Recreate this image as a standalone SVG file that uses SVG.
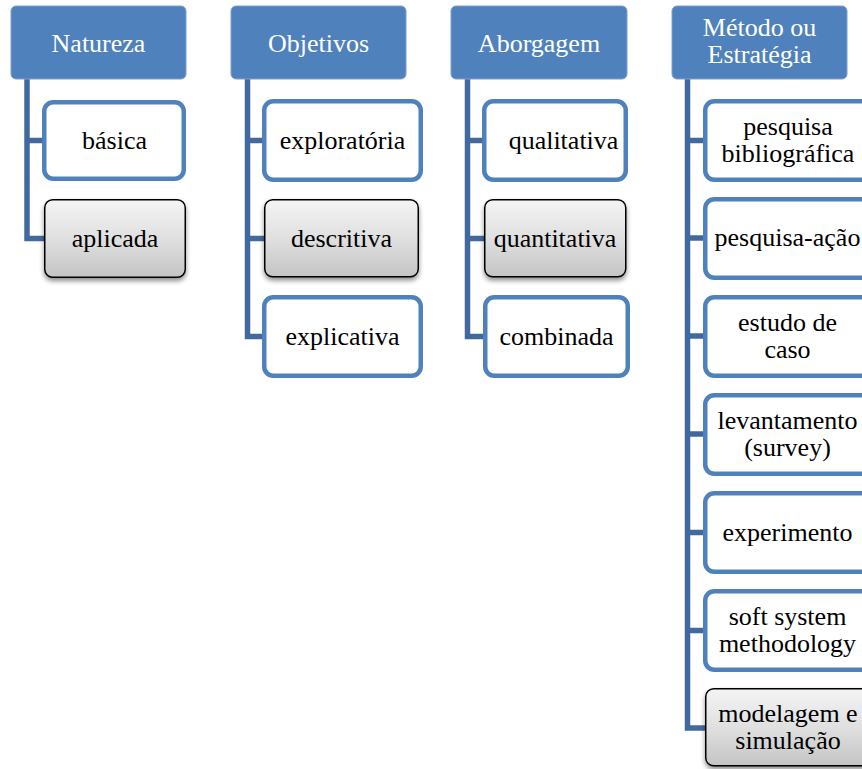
<svg xmlns="http://www.w3.org/2000/svg" width="862" height="769" viewBox="0 0 862 769">
  <style>
    .hdr rect { fill: #4f81bd; stroke: #7da0d0; stroke-width: 1; }
    .hdr text { fill: #ffffff; }
    text { font-family: "Liberation Serif", "Times New Roman", serif; font-size: 26px; text-anchor: middle; fill: #000000; }
    .item rect { fill: #ffffff; stroke: #4f81bd; stroke-width: 4.5; }
    .sel rect { fill: url(#gray); stroke: #000000; stroke-width: 1.5; filter: url(#shadow); }
    .conn { fill: none; stroke: #41699e; stroke-width: 5.5; stroke-linejoin: miter; }
  </style>
  <defs>
    <linearGradient id="gray" x1="0" y1="0" x2="0" y2="1">
      <stop offset="0" stop-color="#f4f4f4"/>
      <stop offset="0.5" stop-color="#e0e0e0"/>
      <stop offset="1" stop-color="#c4c4c4"/>
    </linearGradient>
    <filter id="shadow" x="-10%" y="-10%" width="120%" height="130%">
      <feGaussianBlur in="SourceAlpha" stdDeviation="2.5"/>
      <feOffset dy="3" result="b"/>
      <feComponentTransfer><feFuncA type="linear" slope="0.45"/></feComponentTransfer>
      <feMerge><feMergeNode/><feMergeNode in="SourceGraphic"/></feMerge>
    </filter>
  </defs>

  <!-- connectors -->
  <g id="connectors" class="conn">
    <path d="M27 79 V238.5 H46 M27 140.5 H46"/>
    <path d="M247.5 79 V336.5 H266 M247.5 140.5 H266 M247.5 238.5 H266"/>
    <path d="M467.5 79 V336.5 H486 M467.5 140.5 H486 M467.5 238.5 H486"/>
    <path d="M687.5 79 V728 H707 M687.5 140.5 H707 M687.5 238 H707 M687.5 336 H707 M687.5 434 H707 M687.5 532.5 H707 M687.5 630.5 H707"/>
  </g>

  <!-- column 1 -->
  <g id="natureza" class="hdr"><rect x="11" y="6" width="175" height="73" rx="5"/><text x="98.5" y="51.5">Natureza</text></g>
  <g id="basica" class="item"><rect x="44.25" y="102.25" width="139.5" height="76.5" rx="9"/><text x="114.5" y="148.5">básica</text></g>
  <g id="aplicada" class="sel"><rect x="44.75" y="199.75" width="140.5" height="77.5" rx="8"/><text x="115" y="246.5">aplicada</text></g>

  <!-- column 2 -->
  <g id="objetivos" class="hdr"><rect x="231" y="6" width="175" height="73" rx="5"/><text x="318.5" y="51.5">Objetivos</text></g>
  <g id="exploratoria" class="item"><rect x="264.25" y="101.25" width="156.5" height="78.5" rx="9"/><text x="342.5" y="148.5">exploratória</text></g>
  <g id="descritiva" class="sel"><rect x="264.75" y="199.75" width="153.5" height="77" rx="8"/><text x="341.5" y="246.5">descritiva</text></g>
  <g id="explicativa" class="item"><rect x="264.25" y="297.25" width="156.5" height="78.5" rx="9"/><text x="342.5" y="344.5">explicativa</text></g>

  <!-- column 3 -->
  <g id="abordagem" class="hdr"><rect x="451" y="6" width="176" height="73" rx="5"/><text x="539" y="51.5">Aborgagem</text></g>
  <g id="qualitativa" class="item"><rect x="484.25" y="101.25" width="141.5" height="78.5" rx="9"/><text x="563.5" y="148.5">qualitativa</text></g>
  <g id="quantitativa" class="sel"><rect x="484.75" y="199.75" width="141" height="77" rx="8"/><text x="555" y="246.5">quantitativa</text></g>
  <g id="combinada" class="item"><rect x="485.25" y="297.25" width="142.5" height="78.5" rx="9"/><text x="556.5" y="344.5">combinada</text></g>

  <!-- column 4 -->
  <g id="metodo" class="hdr"><rect x="672" y="6" width="175" height="73" rx="5"/><text x="759.5" y="36">Método ou</text><text x="759.5" y="63">Estratégia</text></g>
  <g id="bibliografica" class="item"><rect x="705.25" y="101.25" width="166" height="78.5" rx="9"/><text x="788" y="135">pesquisa</text><text x="788" y="162">bibliográfica</text></g>
  <g id="acao" class="item"><rect x="705.25" y="199.25" width="166" height="78.5" rx="9"/><text x="787.5" y="246">pesquisa-ação</text></g>
  <g id="caso" class="item"><rect x="705.25" y="297.25" width="166" height="78.5" rx="9"/><text x="787.5" y="331">estudo de</text><text x="787.5" y="358">caso</text></g>
  <g id="survey" class="item"><rect x="705.25" y="395.25" width="166" height="78.5" rx="9"/><text x="787.5" y="429">levantamento</text><text x="787.5" y="456">(survey)</text></g>
  <g id="experimento" class="item"><rect x="705.25" y="493.25" width="166" height="78.5" rx="9"/><text x="787.5" y="540.5">experimento</text></g>
  <g id="ssm" class="item"><rect x="705.25" y="591.25" width="166" height="78.5" rx="9"/><text x="787.5" y="625">soft system</text><text x="787.5" y="652">methodology</text></g>
  <g id="modelagem" class="sel"><rect x="705.75" y="688.75" width="166" height="77" rx="8"/><text x="788" y="722">modelagem e</text><text x="788" y="749">simulação</text></g>
</svg>
